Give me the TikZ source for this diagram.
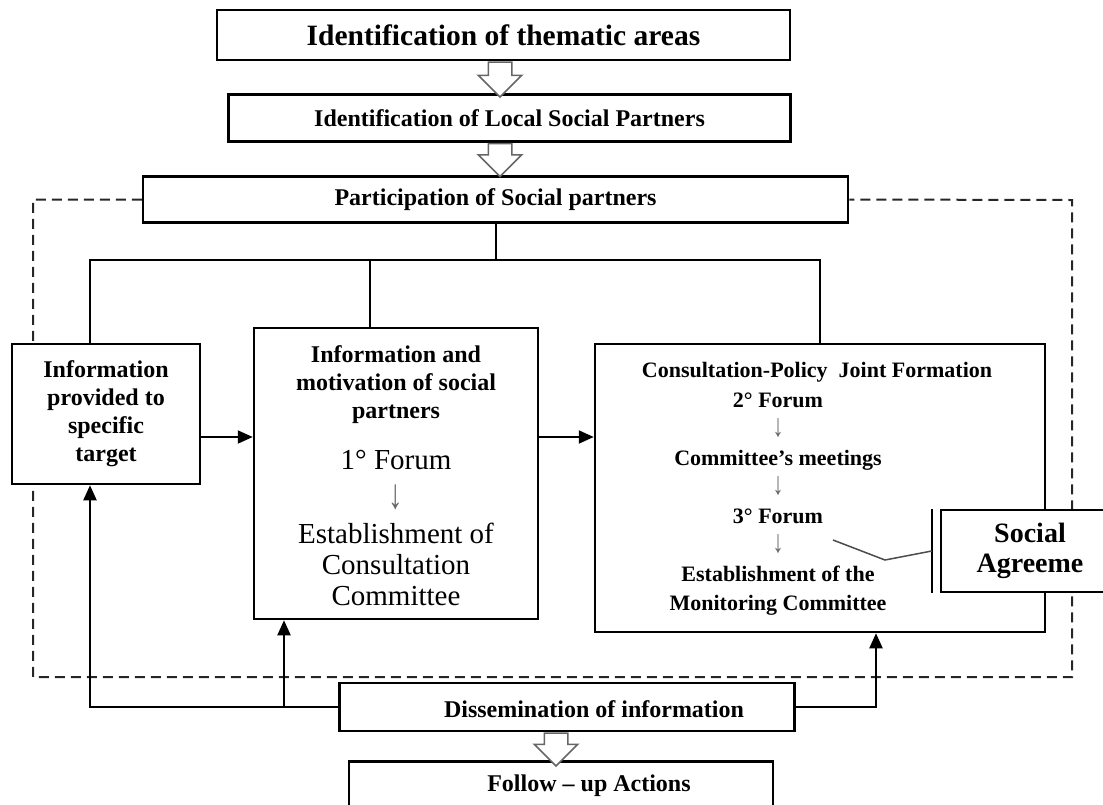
\documentclass[tikz,border=0pt]{standalone}
\usepackage{fontspec}
\setmainfont{Liberation Serif}
\usetikzlibrary{shapes.arrows,arrows.meta}

\newcommand{\ttlfont}{\fontsize{29.5}{32}\selectfont\bfseries}
\newcommand{\hdrfont}{\fontsize{24}{28}\selectfont\bfseries}
\newcommand{\smlfont}{\fontsize{22}{29}\selectfont\bfseries}
\newcommand{\rglfont}{\fontsize{29}{31}\selectfont}
\newcommand{\agrfont}{\fontsize{28}{30}\selectfont\bfseries}
\newcommand{\dn}{{\color{black!60}\scalebox{1}[1.45]{↓}}}

\begin{document}
\begin{tikzpicture}[x=1pt,y=-1pt,
  box/.style={draw,fill=white,line width=2.5pt,inner sep=0pt},
  hollow/.style={single arrow,draw=black!60,fill=white,line width=1.5pt,rotate=-90,
    inner xsep=0pt,inner ysep=11pt,single arrow head extend=10pt,
    minimum height=#1,anchor=tail},
  arr/.style={line width=2pt,-{Triangle[length=15pt,width=13pt]}},
  link/.style={line width=2pt},
  frameline/.style={line width=2pt,black!85,dash pattern=on 10pt off 6pt},
  callout/.style={line width=1.5pt,black!70}]
\useasboundingbox (0,0) rectangle (1103,804);
\clip (0,0) rectangle (1103,804);
% helper rows and columns
\coordinate (bus) at (0,260);
\coordinate (row) at (0,437);
\coordinate (c1) at (90,0);
\coordinate (c2) at (370,0);
\coordinate (c3) at (284,0);
\coordinate (c4) at (876,0);
\coordinate (c5) at (556,0);
\coordinate (c6) at (500,0);
\coordinate (fsw) at (33,677);
\coordinate (fne) at (1072,200);

% top chain
\node[box,minimum width=573pt,minimum height=50pt,font=\ttlfont] (thm) at (503.5,35)
  {Identification of thematic areas};
\node[box,minimum width=562pt,minimum height=47pt,font=\hdrfont] (lsp) at (509.5,118)
  {Identification of Local Social Partners};
\node[box,minimum width=705pt,minimum height=46pt,font=\hdrfont] (par) at (495.5,199.5)
  {Participation of Social partners};
\node[hollow=35pt] (ha1) at (c6 |- thm.south) {};
\node[hollow=33pt] (ha2) at (c6 |- lsp.south) {};

% dashed frame
\draw[frameline] (par.west) -| (fsw) -| (fne) -- (par.east);

% three stages
\node[box,minimum width=188pt,minimum height=140pt,font=\hdrfont,align=center] (inf)
  at (106,414) {Information\\provided to\\specific\\target};
\node[box,minimum width=284pt,minimum height=291pt] (mot) at (396,473.5) {};
\node[box,minimum width=450pt,minimum height=288pt] (con) at (820,488) {};

\node[font=\hdrfont,align=center] (motA) at (396,385)
  {Information and\\motivation of social\\partners};
\node[font=\rglfont] (frm1) at (396,460) {1° Forum};
\node[font=\rglfont] (dn1) at (396,497) {\dn};
\node[font=\rglfont,align=center] (estA) at (396,564)
  {Establishment of\\Consultation\\Committee};

\node[font=\smlfont] (conT) at (817,372) {Consultation-Policy\ \ Joint Formation};
\node[font=\smlfont,align=center] (steps) at (778,504)
  {2° Forum\\\dn\\Committee's meetings\\\dn\\3° Forum\\\dn\\Establishment of the\\Monitoring Committee};

% social agreement
\node[box,minimum width=178pt,minimum height=82pt,font=\agrfont,align=center] (agr)
  at (1030,551) {Social\\Agreeme};
\draw[link] ([xshift=-8pt]agr.north west) -- ([xshift=-8pt]agr.south west);
\coordinate (cl) at (833,540);
\coordinate (ck) at (885,560);
\draw[callout] (cl) -- (ck) -- ([xshift=-8pt]agr.west);

% tree from participation
\draw[link] (par.south) -- (par.south |- bus);
\draw[link] (c1 |- inf.north) |- (con.north |- bus) -- (con.north);
\draw[link] (c2 |- bus) -- (c2 |- mot.north);
\draw[arr] (inf.east |- row) -- (mot.west |- row);
\draw[arr] (mot.east |- row) -- (con.west |- row);

% dissemination and follow up
\node[box,minimum width=455pt,minimum height=48pt] (dis) at (567,707) {};
\node[font=\hdrfont] (disT) at (594,709) {Dissemination of information};
\node[box,minimum width=424pt,minimum height=54pt,anchor=north] (fol) at (561,760) {};
\node[font=\hdrfont] (folT) at (589,786) {Follow -- up Actions};
\node[hollow=33pt] (ha3) at (c5 |- dis.south) {};

\draw[arr] (dis.west) -| (c1 |- inf.south);
\draw[arr] (c3 |- dis.west) -- (c3 |- mot.south);
\draw[arr] (dis.east) -| (c4 |- con.south);
\end{tikzpicture}
\end{document}
